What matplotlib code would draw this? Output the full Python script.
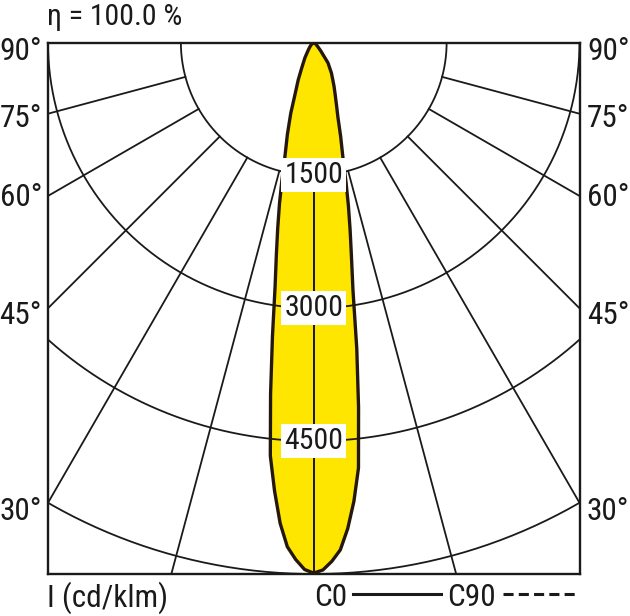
import numpy as np
import matplotlib
matplotlib.use('Agg')
import matplotlib.pyplot as plt
from matplotlib.lines import Line2D

# luminous intensity distribution, cd/klm
gamma = [0, 1, 2, 3, 4, 5, 6, 7, 8, 9, 10, 11, 12, 13, 14, 16, 18, 20,
         22.5, 25, 30, 35, 40, 45, 50, 60, 75, 90]
i_c0 = [5990, 5955, 5860, 5735, 5500, 5200, 4830, 4150, 3490, 2830, 2450,
        2150, 1880, 1620, 1380, 1100, 880, 750, 630, 540, 400, 280, 120,
        60, 35, 15, 5, 0]
i_c180 = [5990, 5950, 5840, 5700, 5440, 5080, 4690, 4000, 3350, 2790, 2430,
          2130, 1860, 1600, 1360, 1080, 840, 610, 460, 330, 200, 115, 75,
          50, 30, 12, 4, 0]

rings = [1500, 3000, 4500, 6000]
ring_labels = ['1500', '3000', '4500']
spokes = [0, 15, 30, 45, 60, 75]
side_angles = ['90°', '75°', '60°', '45°', '30°']
side_y = [51, 119, 198, 316, 511]   # pixel rows of the side labels
eta = 'η = 100.0 %'

FONT = ['Roboto Condensed', 'Archivo Narrow', 'DejaVu Sans']
INK = '#1a1a1a'
W, H = 630, 616

fig = plt.figure(figsize=(W / 100, H / 100), dpi=100)
ax = fig.add_axes([48 / W, 1 - 574 / H, 531.5 / W, 531.5 / H])
ax.set_xlim(-3000, 3000)
ax.set_ylim(-6000, 0)
ax.set_xticks([])
ax.set_yticks([])
for sp in ax.spines.values():
    sp.set_linewidth(1.7)
    sp.set_color(INK)

# beam: left half is C180, right half C0
g = np.radians(gamma)
xr = np.array(i_c0) * np.sin(g)
yr = -np.array(i_c0) * np.cos(g)
xl = -np.array(i_c180) * np.sin(g)
yl = -np.array(i_c180) * np.cos(g)
bx = np.concatenate([xl[::-1], xr[1:]])
by = np.concatenate([yl[::-1], yr[1:]])
ax.fill(bx, by, color='#ffe600', zorder=1, lw=0)

# polar grid
t = np.radians(np.linspace(-90, 90, 400))
for r in rings:
    ax.plot(r * np.sin(t), -r * np.cos(t), color=INK, lw=1.3, zorder=2)
for a in spokes:
    for s in (-1, 1):
        ar = np.radians(a) * s
        ax.plot([1500 * np.sin(ar), 9000 * np.sin(ar)],
                [-1500 * np.cos(ar), -9000 * np.cos(ar)],
                color=INK, lw=1.3, zorder=2)

ax.plot(bx, by, color='#24180c', lw=2.4, zorder=3, solid_joinstyle='round')

for r, lab in zip(rings, ring_labels):
    ax.text(0, -r, lab, ha='center', va='center', fontsize=21.5, family=FONT,
            color=INK, zorder=4,
            bbox=dict(boxstyle='square,pad=0.1', facecolor='white', edgecolor='none'))

# side labels
for lab, y in zip(side_angles, side_y):
    fig.text(42 / W, 1 - y / H, lab, ha='right', va='center', fontsize=22.5,
             family=FONT, color=INK)
    fig.text(587 / W, 1 - y / H, lab, ha='left', va='center', fontsize=22.5,
             family=FONT, color=INK)

fig.text(47 / W, 1 - 17 / H, eta, ha='left', va='center', fontsize=21.5,
         family=FONT, color=INK)
fig.text(47 / W, 1 - 598 / H, 'I (cd/klm)', ha='left', va='center', fontsize=22.5,
         family=FONT, color=INK)
fig.text(314 / W, 1 - 598 / H, 'C0', ha='left', va='center', fontsize=22.5,
         family=FONT, color=INK)
fig.text(447 / W, 1 - 598 / H, 'C90', ha='left', va='center', fontsize=22.5,
         family=FONT, color=INK)
fig.add_artist(Line2D([353 / W, 441 / W], [1 - 594 / H, 1 - 594 / H],
                      color=INK, lw=2.2))
fig.add_artist(Line2D([503 / W, 577 / W], [1 - 594 / H, 1 - 594 / H],
                      color=INK, lw=2.2, dashes=(3.3, 1.7)))

fig.savefig('out.png', dpi=100, facecolor='white')
